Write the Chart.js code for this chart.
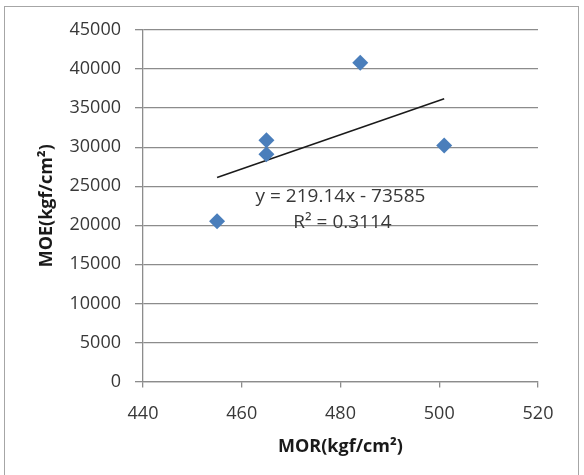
<!DOCTYPE html>
<html>
<head>
<meta charset="utf-8">
<script src="https://cdn.jsdelivr.net/npm/chart.js@4.4.0/dist/chart.umd.min.js"></script>
<style>
  html, body { margin: 0; padding: 0; background: #fff; overflow: hidden; }
  #frame {
    position: absolute; left: 4px; top: 6px; width: 575px; height: 480px;
    border: 1.5px solid #a6a6a6; box-sizing: border-box;
  }
  #wrap { position: absolute; left: 0; top: 0; width: 584px; height: 475px; }
</style>
</head>
<body>
<div id="frame"></div>
<div id="wrap"><canvas id="chart" width="584" height="475"></canvas></div>
<script>
// data
var morValues = [455, 465, 465, 484, 501];
var moeValues = [20500, 30900, 29100, 40800, 30200];
var xTicks = [440, 460, 480, 500, 520];
var yTicks = [0, 5000, 10000, 15000, 20000, 25000, 30000, 35000, 40000, 45000];

// linear trend as printed on the chart
var trendSlope = 219.14;
var trendIntercept = -73585;
var trendText = ['y = 219.14x - 73585', 'R² = 0.3114'];
var trendLabelAt = [480, 22000];

var pts = morValues.map(function(x, i) { return {x: x, y: moeValues[i]}; });
var xMin = Math.min.apply(null, morValues);
var xMax = Math.max.apply(null, morValues);
var trendPts = [
    {x: xMin, y: trendSlope * xMin + trendIntercept},
    {x: xMax, y: trendSlope * xMax + trendIntercept}
];

var gridColor = '#8c8c8c';
var textColor = '#383838';

var trendLabel = {
    id: 'trendLabel',
    afterDatasetsDraw: function(chart) {
        var ctx = chart.ctx;
        var x = chart.scales.x.getPixelForValue(trendLabelAt[0]);
        var y = chart.scales.y.getPixelForValue(trendLabelAt[1]);
        ctx.save();
        ctx.font = '19px "Open Sans"';
        ctx.fillStyle = textColor;
        ctx.textAlign = 'center';
        ctx.textBaseline = 'middle';
        ctx.fillText(trendText[0], x, y - 13);
        ctx.fillText(trendText[1], x + 2, y + 13);
        ctx.restore();
    }
};

var plainTick = function(v) { return String(v); };

new Chart(document.getElementById('chart'), {
    type: 'scatter',
    data: {
        datasets: [{
            data: pts,
            pointStyle: 'rectRot',
            pointRadius: 8,
            pointHoverRadius: 8,
            backgroundColor: '#4a7ebb',
            borderColor: '#4a7ebb',
            borderWidth: 0
        }, {
            data: trendPts,
            showLine: true,
            pointRadius: 0,
            borderColor: '#1a1a1a',
            borderWidth: 1.5
        }]
    },
    options: {
        responsive: false,
        animation: false,
        layout: { padding: { top: 30, right: 46, left: 0, bottom: 0 } },
        plugins: { legend: { display: false }, tooltip: { enabled: false } },
        scales: {
            x: {
                type: 'linear',
                min: xTicks[0],
                max: xTicks[xTicks.length - 1],
                afterBuildTicks: function(s) { s.ticks = xTicks.map(function(v) { return {value: v}; }); },
                afterFit: function(s) { s.height = 93.5; },
                grid: { drawOnChartArea: false, drawTicks: true, tickLength: 6, color: gridColor, lineWidth: 1.3 },
                border: { display: true, color: gridColor, width: 1.3 },
                ticks: { padding: 16, color: textColor, font: { family: 'Open Sans', size: 18 }, maxRotation: 0, callback: plainTick },
                title: { display: true, text: 'MOR(kgf/cm²)', color: '#1a1a1a',
                         font: { family: 'Open Sans', size: 18, weight: 'bold' }, padding: { top: 0, bottom: 17 } }
            },
            y: {
                type: 'linear',
                min: yTicks[0],
                max: yTicks[yTicks.length - 1],
                afterBuildTicks: function(s) { s.ticks = yTicks.map(function(v) { return {value: v}; }); },
                afterFit: function(s) { s.width = 143; },
                grid: { color: gridColor, lineWidth: 1.3, tickLength: 8 },
                border: { display: true, color: gridColor, width: 1.3 },
                ticks: { padding: 14, color: textColor, font: { family: 'Open Sans', size: 18 }, callback: plainTick },
                title: { display: true, text: 'MOE(kgf/cm²)', color: '#1a1a1a',
                         font: { family: 'Open Sans', size: 18, weight: 'bold' }, padding: { top: 36, bottom: 0 } }
            }
        }
    },
    plugins: [trendLabel]
});
</script>
</body>
</html>
